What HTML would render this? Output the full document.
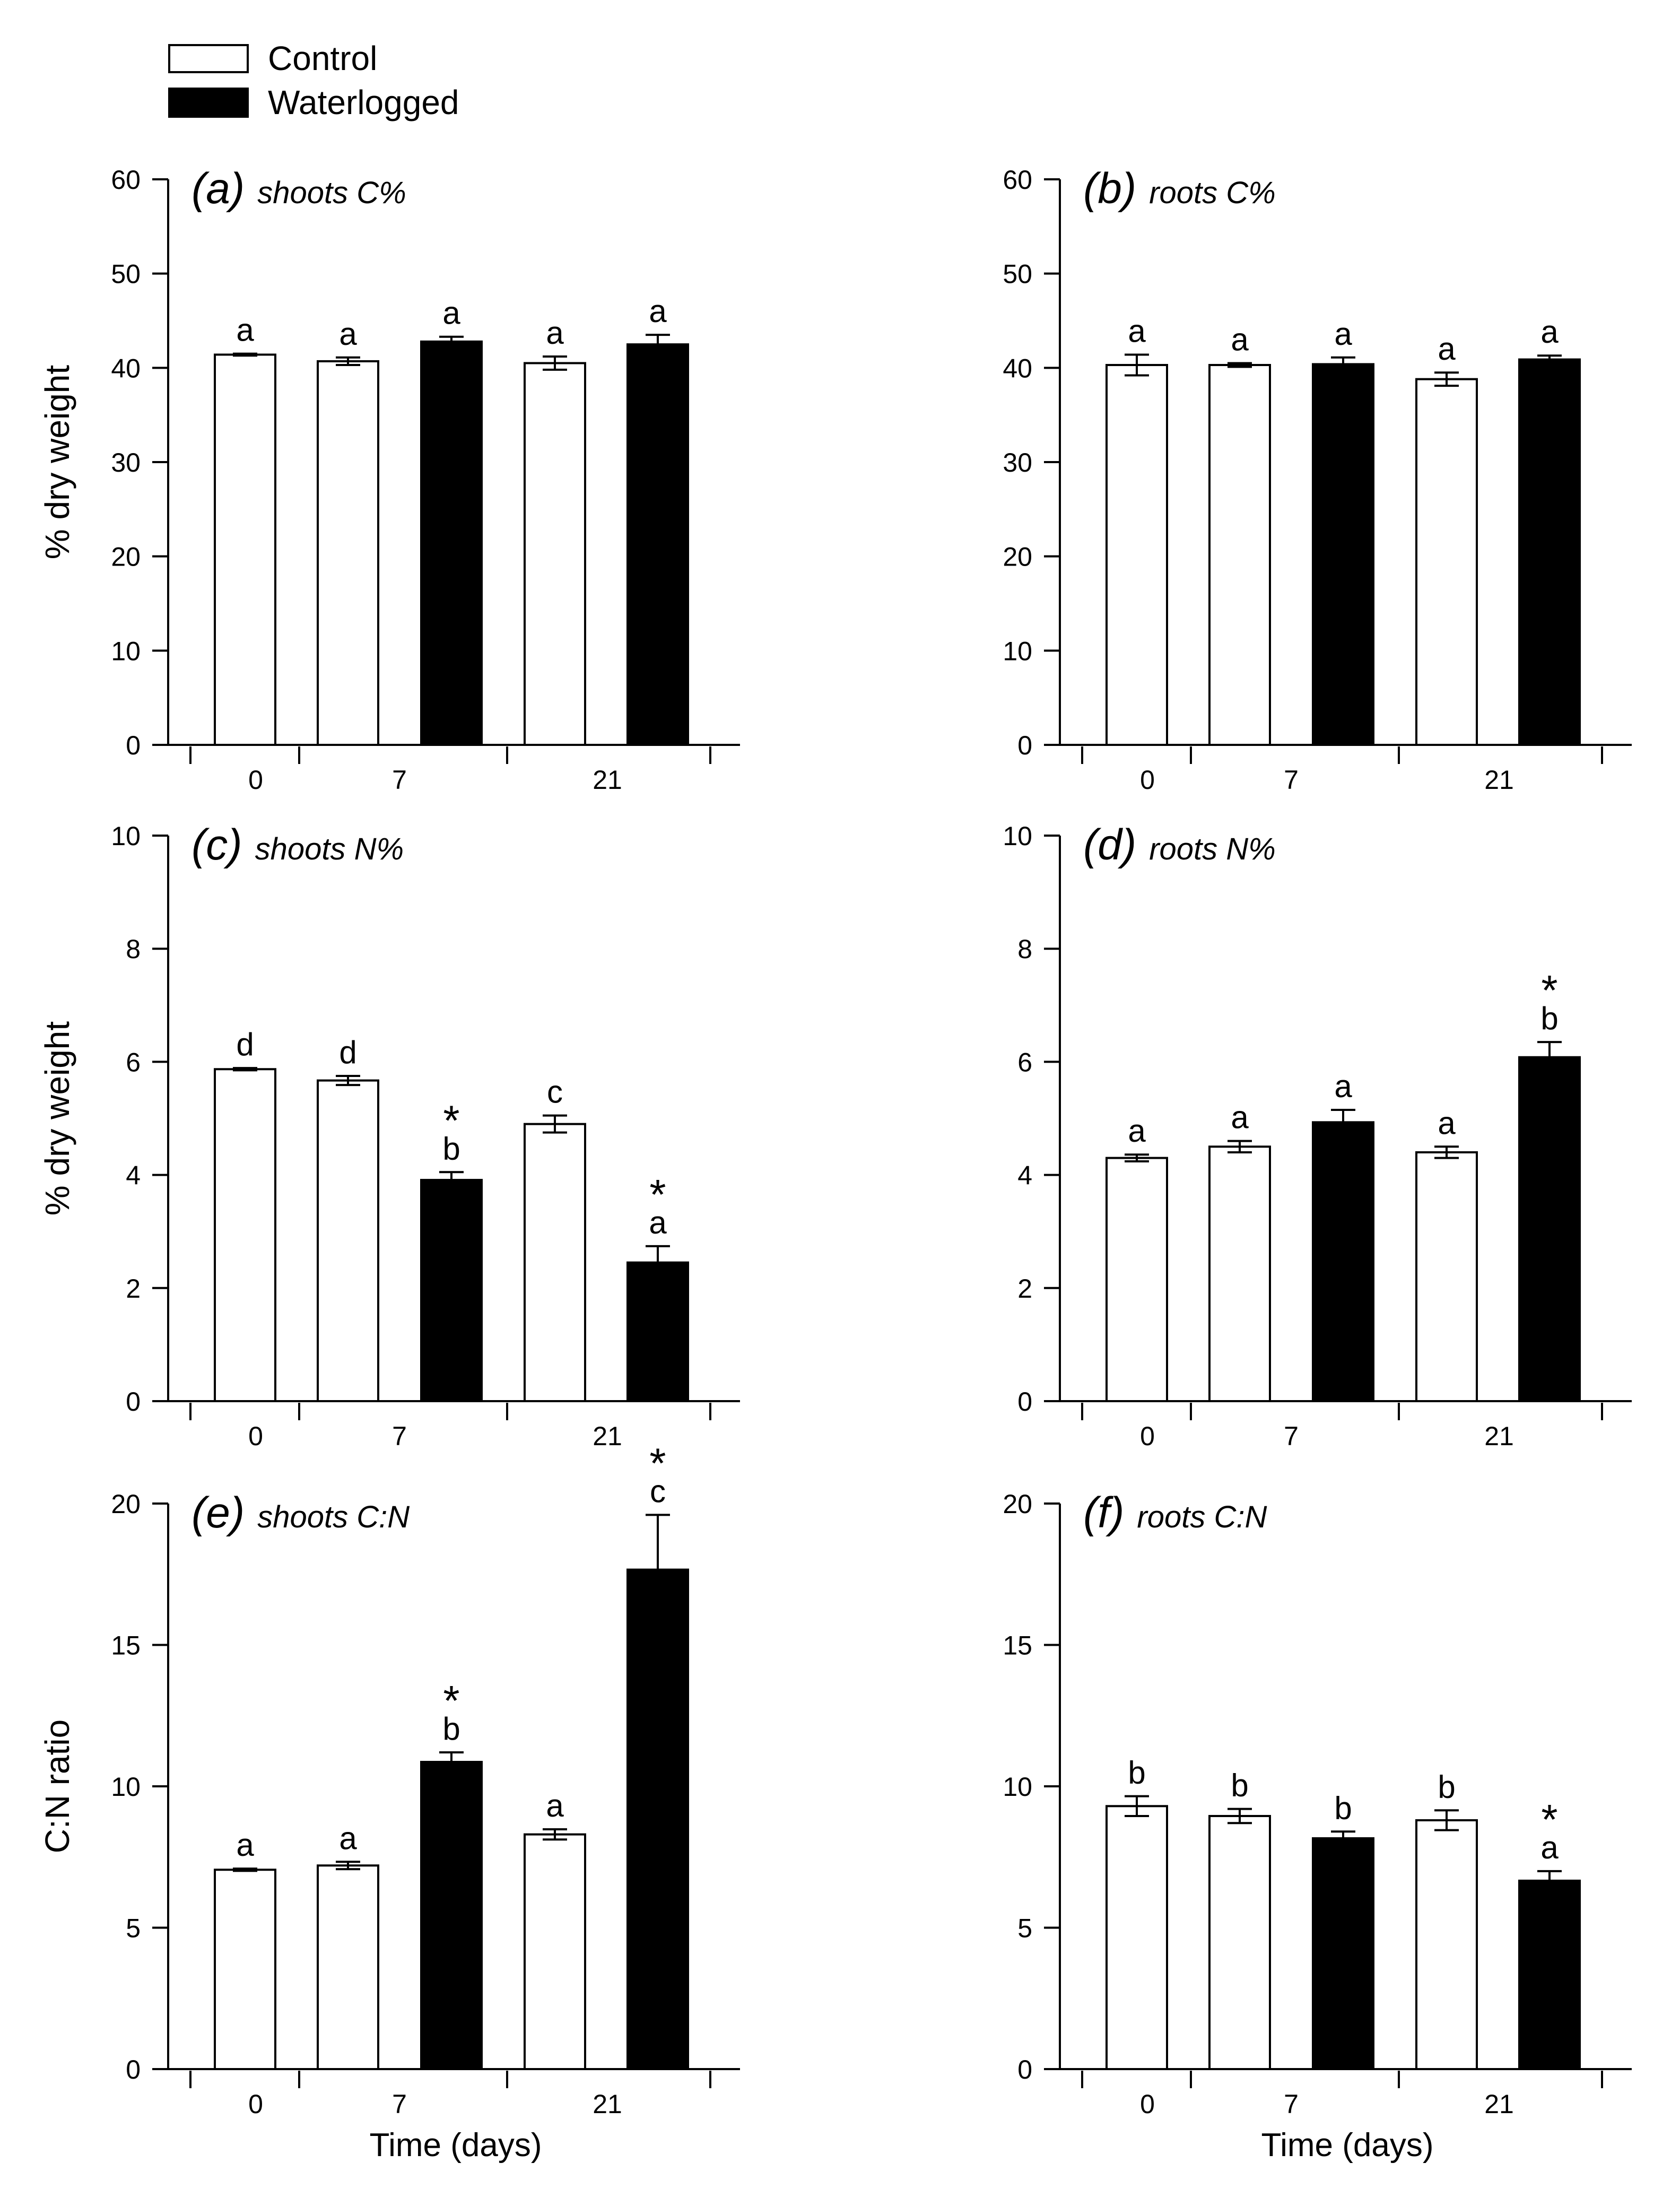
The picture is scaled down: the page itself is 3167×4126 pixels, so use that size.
<!DOCTYPE html>
<html><head><meta charset="utf-8"><style>
html,body{margin:0;padding:0;background:#fff;}
svg{display:block;font-family:"Liberation Sans",Arial,sans-serif;}
</style></head><body>
<svg id="fig" width="3167" height="4126" viewBox="0 0 3167 4126" xmlns="http://www.w3.org/2000/svg">
<rect x="0" y="0" width="3167" height="4126" fill="#fff"/>
<g>
  <rect x="319" y="85" width="148" height="51" fill="#fff" stroke="#000" stroke-width="4"/>
  <text x="505" y="132" font-size="64">Control</text>
  <rect x="317" y="165" width="152" height="57" fill="#000"/>
  <text x="505" y="215" font-size="64">Waterlogged</text>
</g>
</svg>
<script>
// Categories
const groups = ['0', '7', '21'];
const treatments = ['control', 'control', 'waterlogged', 'control', 'waterlogged'];
// Panel (a) shoots C%
const shootsC = [41.4, 40.7, 42.9, 40.5, 42.6];
const shootsCErr = [0.1, 0.4, 0.4, 0.7, 0.9];
const shootsCLetters = ['a', 'a', 'a', 'a', 'a'];
const shootsCStars = [false, false, false, false, false];
// Panel (b) roots C%
const rootsC = [40.3, 40.3, 40.5, 38.8, 41.0];
const rootsCErr = [1.1, 0.2, 0.6, 0.7, 0.3];
const rootsCLetters = ['a', 'a', 'a', 'a', 'a'];
const rootsCStars = [false, false, false, false, false];
// Panel (c) shoots N%
const shootsN = [5.87, 5.67, 3.93, 4.9, 2.47];
const shootsNErr = [0.02, 0.08, 0.12, 0.15, 0.27];
const shootsNLetters = ['d', 'd', 'b', 'c', 'a'];
const shootsNStars = [false, false, true, false, true];
// Panel (d) roots N%
const rootsN = [4.3, 4.5, 4.95, 4.4, 6.1];
const rootsNErr = [0.06, 0.1, 0.2, 0.1, 0.25];
const rootsNLetters = ['a', 'a', 'a', 'a', 'b'];
const rootsNStars = [false, false, false, false, true];
// Panel (e) shoots C:N
const shootsCN = [7.05, 7.2, 10.9, 8.3, 17.7];
const shootsCNErr = [0.04, 0.13, 0.3, 0.18, 1.9];
const shootsCNLetters = ['a', 'a', 'b', 'a', 'c'];
const shootsCNStars = [false, false, true, false, true];
// Panel (f) roots C:N
const rootsCN = [9.3, 8.95, 8.2, 8.8, 6.7];
const rootsCNErr = [0.35, 0.25, 0.2, 0.35, 0.3];
const rootsCNLetters = ['b', 'b', 'b', 'b', 'a'];
const rootsCNStars = [false, false, false, false, true];
// Tick labels
const ticksC = [0, 10, 20, 30, 40, 50, 60];
const ticksN = [0, 2, 4, 6, 8, 10];
const ticksCN = [0, 5, 10, 15, 20];

const NS = 'http://www.w3.org/2000/svg';
const svg = document.getElementById('fig');
function mk(tag, attrs, parent, txt) {
  const e = document.createElementNS(NS, tag);
  for (const k in attrs) e.setAttribute(k, attrs[k]);
  if (txt !== undefined) e.textContent = txt;
  parent.appendChild(e);
  return e;
}

const panels = [
  {id:'a', lab:'(a)', title:'shoots C%', ax:317, top:338, ticks:ticksC, vals:shootsC, err:shootsCErr, let:shootsCLetters, star:shootsCStars, ytitle:'% dry weight', xtitle:false},
  {id:'b', lab:'(b)', title:'roots C%', ax:1998, top:338, ticks:ticksC, vals:rootsC, err:rootsCErr, let:rootsCLetters, star:rootsCStars, ytitle:null, xtitle:false},
  {id:'c', lab:'(c)', title:'shoots N%', ax:317, top:1575, ticks:ticksN, vals:shootsN, err:shootsNErr, let:shootsNLetters, star:shootsNStars, ytitle:'% dry weight', xtitle:false},
  {id:'d', lab:'(d)', title:'roots N%', ax:1998, top:1575, ticks:ticksN, vals:rootsN, err:rootsNErr, let:rootsNLetters, star:rootsNStars, ytitle:null, xtitle:false},
  {id:'e', lab:'(e)', title:'shoots C:N', ax:317, top:2834, ticks:ticksCN, vals:shootsCN, err:shootsCNErr, let:shootsCNLetters, star:shootsCNStars, ytitle:'C:N ratio', xtitle:true},
  {id:'f', lab:'(f)', title:'roots C:N', ax:1998, top:2834, ticks:ticksCN, vals:rootsCN, err:rootsCNErr, let:rootsCNLetters, star:rootsCNStars, ytitle:null, xtitle:true}
];
const H = 1066;
const barOff = [145, 339, 534, 729, 923];
const barW = 118;
const groupTickOff = [42, 247, 639, 1022];
const groupLabelOff = [165, 436, 828];

panels.forEach(p => {
  const g = mk('g', {}, svg);
  
  
  const y0 = p.top + H;
  const ymax = p.ticks[p.ticks.length - 1];
  const ys = v => y0 - v / ymax * H;
  const xs = i => p.ax + barOff[i];

  let e = mk('line', {x1:p.ax, y1:p.top, x2:p.ax, y2:y0 + 2, stroke:'#000', 'stroke-width':4}, g);
  
  
  e = mk('line', {x1:p.ax - 30, y1:y0, x2:p.ax + 1078, y2:y0, stroke:'#000', 'stroke-width':4}, g);
  
  

  p.ticks.forEach(t => {
    const y = ys(t);
    const tl = mk('line', {x1:p.ax - 30, y1:y, x2:p.ax, y2:y, stroke:'#000', 'stroke-width':4}, g);
    
    
    const tx = mk('text', {x:p.ax - 52, y:y + 18, 'font-size':50, 'text-anchor':'end'}, g, String(t));
    
    
  });
  groupTickOff.forEach(o => {
    const tl = mk('line', {x1:p.ax + o, y1:y0 + 3, x2:p.ax + o, y2:y0 + 36, stroke:'#000', 'stroke-width':4}, g);
    
    
  });
  groups.forEach((lab, i) => {
    const tx = mk('text', {x:p.ax + groupLabelOff[i], y:y0 + 83, 'font-size':50, 'text-anchor':'middle'}, g, lab);
    
    
  });

  const tt = mk('text', {x:p.ax + 44, y:p.top + 45, 'font-style':'italic'}, g);
  
  
  mk('tspan', {'font-size':82}, tt, p.lab);
  mk('tspan', {'font-size':58, dx:24}, tt, p.title);

  if (p.ytitle) {
    const cy = p.top + H / 2;
    const yt = mk('text', {x:108, y:cy, 'font-size':64, 'text-anchor':'middle', 'dominant-baseline':'central', transform:'rotate(-90 108 ' + cy + ')'}, g, p.ytitle);
    
    
  }
  if (p.xtitle) {
    const xt = mk('text', {x:p.ax + 542, y:y0 + 164, 'font-size':62, 'text-anchor':'middle'}, g, 'Time (days)');
    
    
  }

  p.vals.forEach((v, i) => {
    const cx = xs(i);
    const black = treatments[i] === 'waterlogged';
    const top = ys(v);
    const eTop = ys(v + p.err[i]);
    const eBot = ys(v - p.err[i]);
    const el = mk('line', {x1:cx, y1:eTop, x2:cx, y2:eBot, stroke:'#000', 'stroke-width':4}, g);
    
    
    const c1 = mk('line', {x1:cx - 23, y1:eTop, x2:cx + 23, y2:eTop, stroke:'#000', 'stroke-width':4}, g);
    
    
    if (!black) {
      const c2 = mk('line', {x1:cx - 23, y1:eBot, x2:cx + 23, y2:eBot, stroke:'#000', 'stroke-width':4}, g);
      
      
    }
    const r = mk('rect', black
      ? {x:cx - barW / 2, y:top, width:barW, height:y0 - top, fill:'#000'}
      : {x:cx - barW / 2 + 2, y:top, width:barW - 4, height:y0 - top, fill:'none', stroke:'#000', 'stroke-width':4}, g);
    
    
    const lb = eTop - 24;
    const lt = mk('text', {x:cx, y:lb, 'font-size':60, 'text-anchor':'middle'}, g, p.let[i]);
    
    
    if (p.star[i]) {
      const st = mk('text', {x:cx, y:lb - 46, 'font-size':80, 'text-anchor':'middle'}, g, '*');
      
      
    }
  });
});
</script>
</body></html>
